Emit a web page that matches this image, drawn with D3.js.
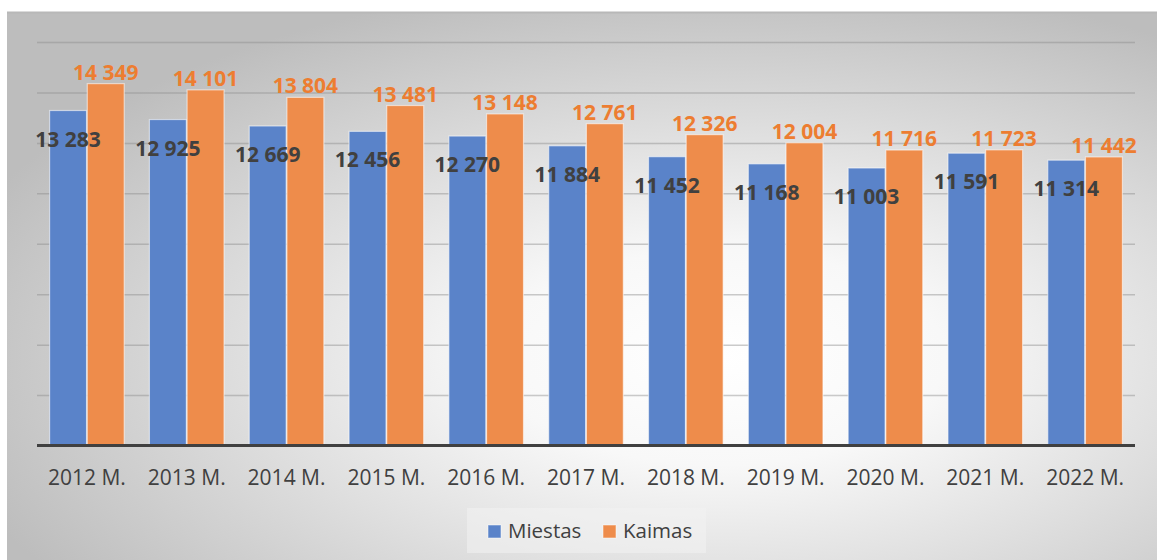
<!DOCTYPE html>
<html>
<head>
<meta charset="utf-8">
<script src="https://cdn.jsdelivr.net/npm/d3@7"></script>
<style>
  html, body { margin: 0; padding: 0; background: #fff; }
  svg { display: block; font-family: "Open Sans", sans-serif; }
</style>
</head>
<body>
<svg id="chart"></svg>
<script>
var W = 1157, H = 560;

var years = ["2012 M.", "2013 M.", "2014 M.", "2015 M.", "2016 M.", "2017 M.",
             "2018 M.", "2019 M.", "2020 M.", "2021 M.", "2022 M."];
var miestas = [13283, 12925, 12669, 12456, 12270, 11884, 11452, 11168, 11003, 11591, 11314];
var kaimas  = [14349, 14101, 13804, 13481, 13148, 12761, 12326, 12004, 11716, 11723, 11442];
var seriesNames = ["Miestas", "Kaimas"];
var colors = ["#5a83c9", "#ee8c4b"];
var labelColors = ["#404040", "#ed7d31"];
var gridTicks = [2000, 4000, 6000, 8000, 10000, 12000, 14000, 16000];

var plotLeft = 37, plotRight = 1135, plotTop = 42, plotBottom = 445.5;

var svg = d3.select("#chart").attr("width", W).attr("height", H);

// background
var defs = svg.append("defs");
var grad = defs.append("radialGradient")
  .attr("id", "bg")
  .attr("cx", 0.62).attr("cy", 0.63).attr("r", 0.7);
grad.append("stop").attr("offset", "0").attr("stop-color", "#ffffff");
grad.append("stop").attr("offset", "0.28").attr("stop-color", "#f8f8f8");
grad.append("stop").attr("offset", "1").attr("stop-color", "#bdbdbd");

svg.append("rect")
  .attr("x", 7).attr("y", 12)
  .attr("width", W - 7).attr("height", H - 12)
  .attr("fill", "url(#bg)");
svg.append("line")
  .attr("x1", 7).attr("x2", W).attr("y1", 12.5).attr("y2", 12.5)
  .attr("stroke", "#b8b8b8").attr("stroke-width", 2);

var x = d3.scaleBand()
  .domain(years)
  .range([plotLeft, plotRight])
  .paddingInner(0.2525)
  .paddingOuter(0.12625);

var xs = d3.scaleBand()
  .domain(seriesNames)
  .range([0, x.bandwidth()])
  .paddingInner(0.02);

var y = d3.scaleLinear()
  .domain([0, 16000])
  .range([plotBottom, plotTop]);

// gridlines
svg.append("g")
  .attr("class", "grid")
  .attr("transform", "translate(" + plotLeft + ",0)")
  .call(d3.axisLeft(y).tickValues(gridTicks).tickSize(-(plotRight - plotLeft)).tickFormat(""))
  .call(function(g) {
    g.select(".domain").remove();
    g.selectAll("line").attr("stroke", "#8c8c8c").attr("stroke-opacity", 0.45).attr("stroke-width", 1.5);
  });

var rows = years.map(function(yr, i) {
  return [
    { year: yr, s: 0, v: miestas[i] },
    { year: yr, s: 1, v: kaimas[i] }
  ];
});

var groups = svg.append("g").selectAll("g")
  .data(rows)
  .join("g")
  .attr("transform", function(d) { return "translate(" + x(d[0].year) + ",0)"; });

groups.selectAll("rect")
  .data(function(d) { return d; })
  .join("rect")
  .attr("x", function(d) { return xs(seriesNames[d.s]); })
  .attr("y", function(d) { return y(d.v); })
  .attr("width", xs.bandwidth())
  .attr("height", function(d) { return plotBottom - y(d.v); })
  .attr("fill", function(d) { return colors[d.s]; })
  .attr("stroke", "#ffffff")
  .attr("stroke-opacity", 0.55)
  .attr("stroke-width", 1.2);

function fmt(v) {
  return d3.format(",")(v).replace(",", " ");
}

groups.selectAll("text")
  .data(function(d) { return d; })
  .join("text")
  .attr("x", function(d) { return xs(seriesNames[d.s]) + xs.bandwidth() / 2; })
  .attr("y", function(d) { return d.s === 0 ? y(d.v) + 36 : y(d.v) - 4; })
  .attr("text-anchor", "middle")
  .attr("font-size", 21)
  .attr("font-weight", "bold")
  .attr("fill", function(d) { return labelColors[d.s]; })
  .text(function(d) { return fmt(d.v); });

// baseline
svg.append("line")
  .attr("x1", plotLeft).attr("x2", plotRight)
  .attr("y1", plotBottom).attr("y2", plotBottom)
  .attr("stroke", "#404040").attr("stroke-width", 3);

// x axis labels
svg.append("g")
  .attr("transform", "translate(0," + plotBottom + ")")
  .call(d3.axisBottom(x).tickSize(0).tickPadding(0))
  .call(function(g) {
    g.select(".domain").remove();
    g.selectAll("text")
      .attr("dy", 0)
      .attr("y", 39.5)
      .attr("font-family", "Open Sans, sans-serif")
      .attr("font-size", 21)
      .attr("fill", "#404040");
  });

// legend
var legend = svg.append("g");
legend.append("rect")
  .attr("x", 467).attr("y", 508)
  .attr("width", 239).attr("height", 45)
  .attr("fill", "#f2f2f2").attr("fill-opacity", 0.55);

var legendX = [488, 603];
var items = legend.selectAll("g.item")
  .data(seriesNames)
  .join("g")
  .attr("class", "item")
  .attr("transform", function(d, i) { return "translate(" + legendX[i] + ",525)"; });
items.append("rect")
  .attr("width", 13).attr("height", 13)
  .attr("fill", function(d, i) { return colors[i]; })
  .attr("stroke", "#ffffff").attr("stroke-opacity", 0.5);
items.append("text")
  .attr("x", 20).attr("y", 13)
  .attr("font-size", 20.5)
  .attr("fill", "#404040")
  .text(function(d) { return d; });
</script>
</body>
</html>
